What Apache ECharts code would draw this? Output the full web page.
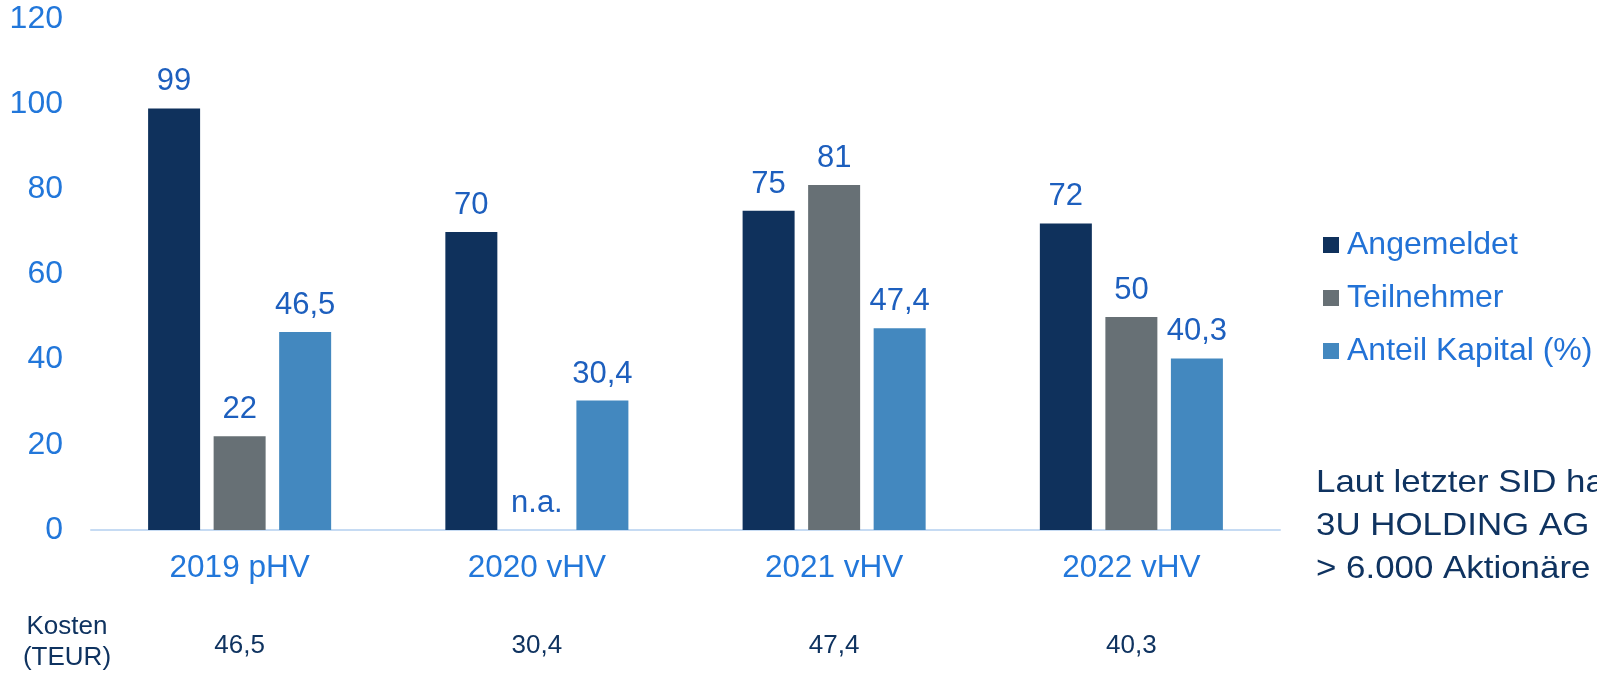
<!DOCTYPE html>
<html>
<head>
<meta charset="utf-8">
<script src="https://cdn.jsdelivr.net/npm/echarts@6/dist/echarts.min.js"></script>
<style>
html,body{margin:0;padding:0;background:#fff;}
#chart{width:1597px;height:673px;}
</style>
</head>
<body>
<div id="chart"></div>
<script>
const categories = ['2019 pHV', '2020 vHV', '2021 vHV', '2022 vHV'];
const angemeldet = [99, 70, 75, 72];
const teilnehmer = [22, null, 81, 50];
const anteilKapital = [46.5, 30.4, 47.4, 40.3];
const kosten = [46.5, 30.4, 47.4, 40.3];
const yTicks = { min: 0, max: 120, interval: 20 };
const seriesNames = ['Angemeldet', 'Teilnehmer', 'Anteil Kapital (%)'];
const sideNote = 'Laut letzter SID hat die\n3U HOLDING AG\n> 6.000 Aktionäre';

const FONT = '"Liberation Sans", Arial, sans-serif';
const fmt = v => String(v).replace('.', ',');
const labelStyle = {
  show: true, position: 'top', distance: 11,
  fontFamily: FONT, fontSize: 31, color: '#1D5FBE',
  formatter: p => fmt(p.value)
};

const chart = echarts.init(document.getElementById('chart'), null, { renderer: 'canvas' });
chart.setOption({
  backgroundColor: '#ffffff',
  animation: false,
  textStyle: { fontFamily: FONT },
  grid: { left: 91, right: 317, top: 19, bottom: 143, containLabel: false },
  legend: {
    orient: 'vertical', left: 1323, top: 229, padding: 0,
    itemWidth: 16, itemHeight: 16, itemGap: 21,
    icon: 'rect',
    textStyle: { fontFamily: FONT, fontSize: 32, color: '#2272D6', padding: [0, 0, 0, 3] },
    data: seriesNames
  },
  xAxis: [
    {
      type: 'category', data: categories, position: 'bottom',
      axisLine: { show: true, lineStyle: { color: '#C6DBF3', width: 2 } },
      axisTick: { show: false },
      axisLabel: { fontFamily: FONT, fontSize: 31.5, color: '#2277DA', margin: 22 }
    },
    {
      type: 'category', data: kosten.map(fmt), position: 'bottom',
      axisLine: { show: false }, axisTick: { show: false },
      axisLabel: { fontFamily: FONT, fontSize: 26, color: '#0F3360', margin: 103 }
    }
  ],
  yAxis: {
    type: 'value', min: yTicks.min, max: yTicks.max, interval: yTicks.interval,
    splitLine: { show: false },
    axisLine: { show: false }, axisTick: { show: false },
    axisLabel: { fontFamily: FONT, fontSize: 32, color: '#2277DA', margin: 28 }
  },
  series: [
    {
      name: seriesNames[0], type: 'bar', barWidth: 52, barGap: '26%',
      itemStyle: { color: '#0F315C' },
      label: labelStyle, data: angemeldet
    },
    {
      name: seriesNames[1], type: 'bar', barWidth: 52, barGap: '26%',
      itemStyle: { color: '#677075' },
      label: labelStyle,
      data: teilnehmer.map(v => v === null ? { value: 0, label: { formatter: 'n.a.' } } : v)
    },
    {
      name: seriesNames[2], type: 'bar', barWidth: 52, barGap: '26%',
      itemStyle: { color: '#4388BF' },
      label: labelStyle, data: anteilKapital
    }
  ],
  graphic: [
    {
      type: 'text', x: 1316, y: 462, scaleX: 1.09,
      style: { text: sideNote, fontFamily: FONT, fontSize: 32, lineHeight: 43, fill: '#0F3360' }
    },
    {
      type: 'text', x: 67, y: 642,
      style: { text: 'Kosten\n(TEUR)', fontFamily: FONT, fontSize: 26, lineHeight: 31,
        fill: '#0F3360', align: 'center', verticalAlign: 'middle' }
    }
  ]
});
</script>
</body>
</html>
